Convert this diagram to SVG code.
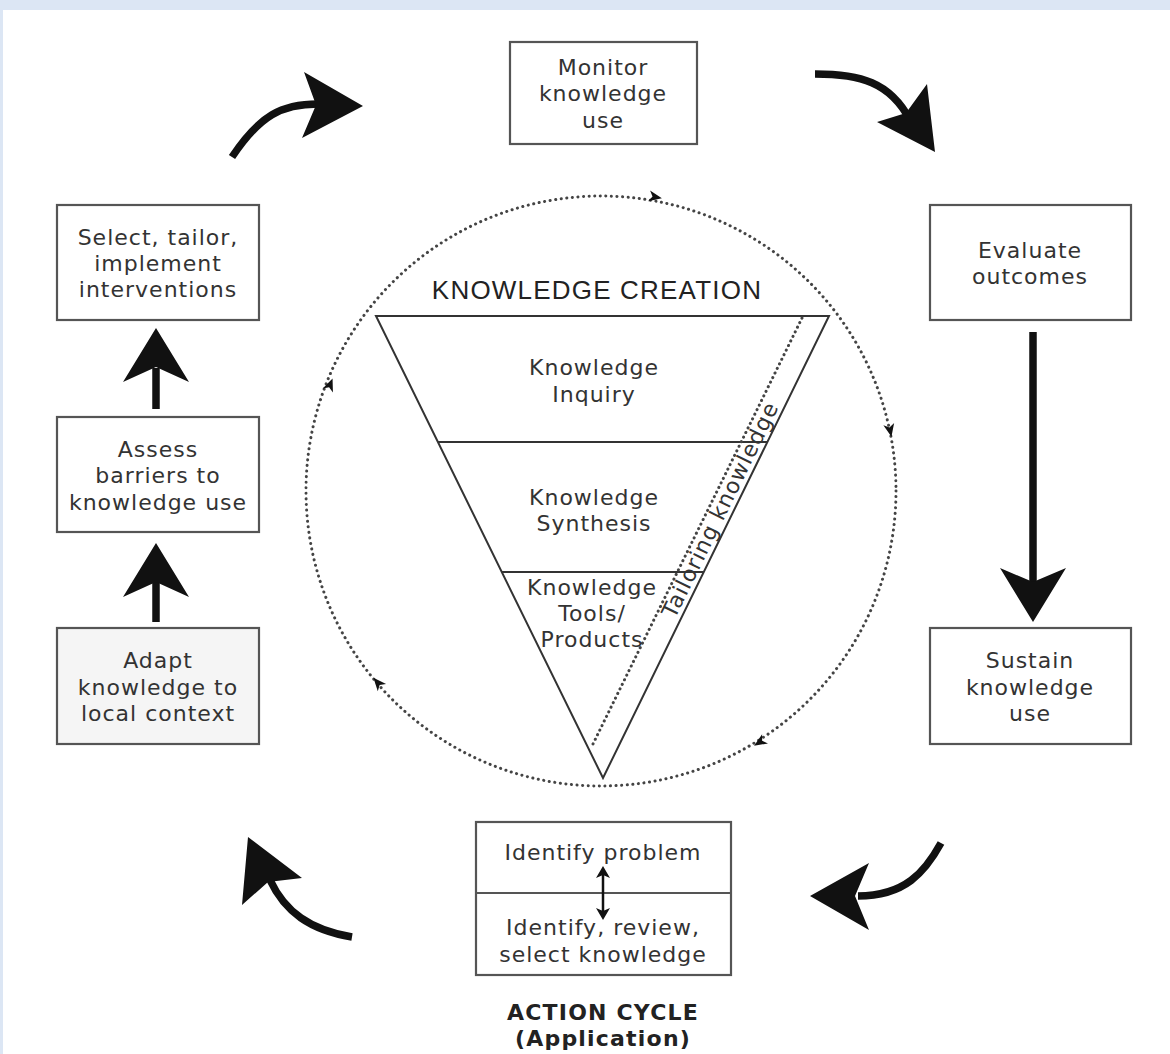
<svg xmlns="http://www.w3.org/2000/svg" width="1170" height="1054" viewBox="0 0 1170 1054">
<style>
.box{fill:#fff;stroke:#555;stroke-width:2.2}
.t{font-family:"DejaVu Sans",Verdana,sans-serif;font-size:22px;letter-spacing:1px;fill:#333;text-anchor:middle}
.b{font-weight:bold;fill:#222;letter-spacing:1.2px}
.big{stroke:#111;stroke-width:7.5;fill:none;stroke-linecap:butt}
.head{fill:#111}
.dot{fill:none;stroke:#444;stroke-width:3;stroke-dasharray:0.1 5.5;stroke-linecap:round}
.tri{fill:none;stroke:#333;stroke-width:2}
.sm{fill:#111}
</style>
<defs>
<path id="ah" d="M7,0 L-6,-5.5 L-2.5,0 L-6,5.5 Z"/>
</defs>
<rect x="0" y="0" width="1170" height="1054" fill="#dce6f4"/>
<rect x="3" y="10" width="1167" height="1044" fill="#fff"/>

<g id="cycle-circle">
<circle class="dot" cx="601" cy="491" r="295"/>
<use href="#ah" class="sm" transform="translate(655,197) rotate(10.4)"/>
<use href="#ah" class="sm" transform="translate(890,430) rotate(78)"/>
<use href="#ah" class="sm" transform="translate(760,742) rotate(147.6)"/>
<use href="#ah" class="sm" transform="translate(378,683) rotate(229)"/>
<use href="#ah" class="sm" transform="translate(330,385) rotate(-68.6)"/>
</g>

<g id="knowledge-creation">
<text x="597" y="299" style="font-family:'Liberation Sans',Arial,sans-serif;font-size:26px;letter-spacing:1.2px;fill:#222;text-anchor:middle">KNOWLEDGE CREATION</text>
<polygon class="tri" points="376,316 829,316 603,778"/>
<line class="tri" x1="438" y1="442" x2="767" y2="442"/>
<line class="tri" x1="502" y1="572" x2="703" y2="572"/>
<line x1="802" y1="318" x2="591" y2="748" stroke="#444" stroke-width="3" stroke-dasharray="0.1 5" stroke-linecap="round"/>
<text class="t" x="594" y="375">Knowledge</text>
<text class="t" x="594" y="402">Inquiry</text>
<text class="t" x="594" y="505">Knowledge</text>
<text class="t" x="594" y="531">Synthesis</text>
<text class="t" x="592" y="595">Knowledge</text>
<text class="t" x="592" y="621">Tools/</text>
<text class="t" x="592" y="647">Products</text>
<text class="t" transform="translate(727,513) rotate(-63.9)">Tailoring knowledge</text>
</g>

<g id="monitor">
<rect class="box" x="510" y="42" width="187" height="102"/>
<text class="t" x="603" y="75">Monitor</text>
<text class="t" x="603" y="101">knowledge</text>
<text class="t" x="603" y="128">use</text>
</g>
<g id="evaluate">
<rect class="box" x="930" y="205" width="201" height="115"/>
<text class="t" x="1030" y="258">Evaluate</text>
<text class="t" x="1030" y="284">outcomes</text>
</g>
<g id="sustain">
<rect class="box" x="930" y="628" width="201" height="116"/>
<text class="t" x="1030" y="668">Sustain</text>
<text class="t" x="1030" y="695">knowledge</text>
<text class="t" x="1030" y="721">use</text>
</g>
<g id="identify">
<rect class="box" x="476" y="822" width="255" height="153"/>
<line x1="476" y1="893" x2="731" y2="893" stroke="#555" stroke-width="2.2"/>
<text class="t" x="603" y="860">Identify problem</text>
<text class="t" x="603" y="935">Identify, review,</text>
<text class="t" x="603" y="962">select knowledge</text>
<line x1="603" y1="874" x2="603" y2="912" stroke="#111" stroke-width="2.5"/>
<path class="sm" d="M603,866 L596,878 L603,875 L610,878 Z"/>
<path class="sm" d="M603,920 L596,908 L603,911 L610,908 Z"/>
</g>
<g id="action-cycle-label">
<text class="t b" x="603" y="1020">ACTION CYCLE</text>
<text class="t b" x="603" y="1046">(Application)</text>
</g>
<g id="adapt">
<rect class="box" x="57" y="628" width="202" height="116" style="fill:#f5f5f5"/>
<text class="t" x="158" y="668">Adapt</text>
<text class="t" x="158" y="695">knowledge to</text>
<text class="t" x="158" y="721">local context</text>
</g>
<g id="assess">
<rect class="box" x="57" y="417" width="202" height="115"/>
<text class="t" x="158" y="457">Assess</text>
<text class="t" x="158" y="483">barriers to</text>
<text class="t" x="158" y="510">knowledge use</text>
</g>
<g id="select">
<rect class="box" x="57" y="205" width="202" height="115"/>
<text class="t" x="158" y="245">Select, tailor,</text>
<text class="t" x="158" y="271">implement</text>
<text class="t" x="158" y="297">interventions</text>
</g>

<g id="connectors">
<path class="big" d="M232,157 C260,115 282,104 318,104"/>
<path class="head" d="M363,106 L304,72 L316,105 L302,138 Z"/>
<path class="big" d="M815,74 C860,74 890,82 910,120"/>
<path class="head" d="M935,152 L877,122 L906,113 L927,84 Z"/>
<path class="big" d="M1033,332 L1033,590"/>
<path class="head" d="M1033,622 L1000,568 L1033,582 L1066,568 Z"/>
<path class="big" d="M941,843 C925,872 905,896 858,896"/>
<path class="head" d="M810,896 L869,863 L855,896 L869,930 Z"/>
<path class="big" d="M352,937 C310,930 285,912 270,880"/>
<path class="head" d="M248,837 L302,878 L268,882 L242,905 Z"/>
<path class="big" d="M156,409 L156,368"/>
<path class="head" d="M156,328 L123,382 L156,367 L189,382 Z"/>
<path class="big" d="M156,622 L156,582"/>
<path class="head" d="M156,543 L123,597 L156,582 L189,597 Z"/>
</g>
</svg>
